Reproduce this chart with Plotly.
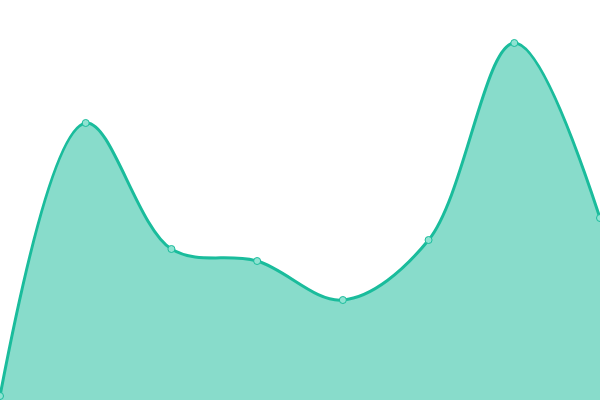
import plotly.graph_objects as go

# values (pixel heights from the bottom)
x_vals = [0, 1, 2, 3, 4, 5, 6, 7]
y_vals = [4, 277, 151, 139, 100, 160, 357, 182]

line_color = '#1abc9c'

fig = go.Figure()
fig.add_trace(go.Scatter(
    x=x_vals, y=y_vals,
    mode='lines+markers',
    line=dict(color=line_color, width=3, shape='spline', smoothing=1.0),
    fill='tozeroy',
    fillcolor='rgba(26,188,156,0.52)',
    marker=dict(size=7, color='#8fe3d2', line=dict(color=line_color, width=1)),
    cliponaxis=False,
    hoverinfo='skip'
))

fig.update_layout(
    width=600, height=400,
    margin=dict(l=0, r=0, t=0, b=0),
    paper_bgcolor='white', plot_bgcolor='white',
    showlegend=False,
    xaxis=dict(visible=False, range=[0, 7]),
    yaxis=dict(visible=False, range=[0, 400]),
)

# drop the page's default body margin so the chart sits at the window corner
fig.write_html("out.html", config={'displayModeBar': False},
               post_script="document.body.style.margin='0';")
